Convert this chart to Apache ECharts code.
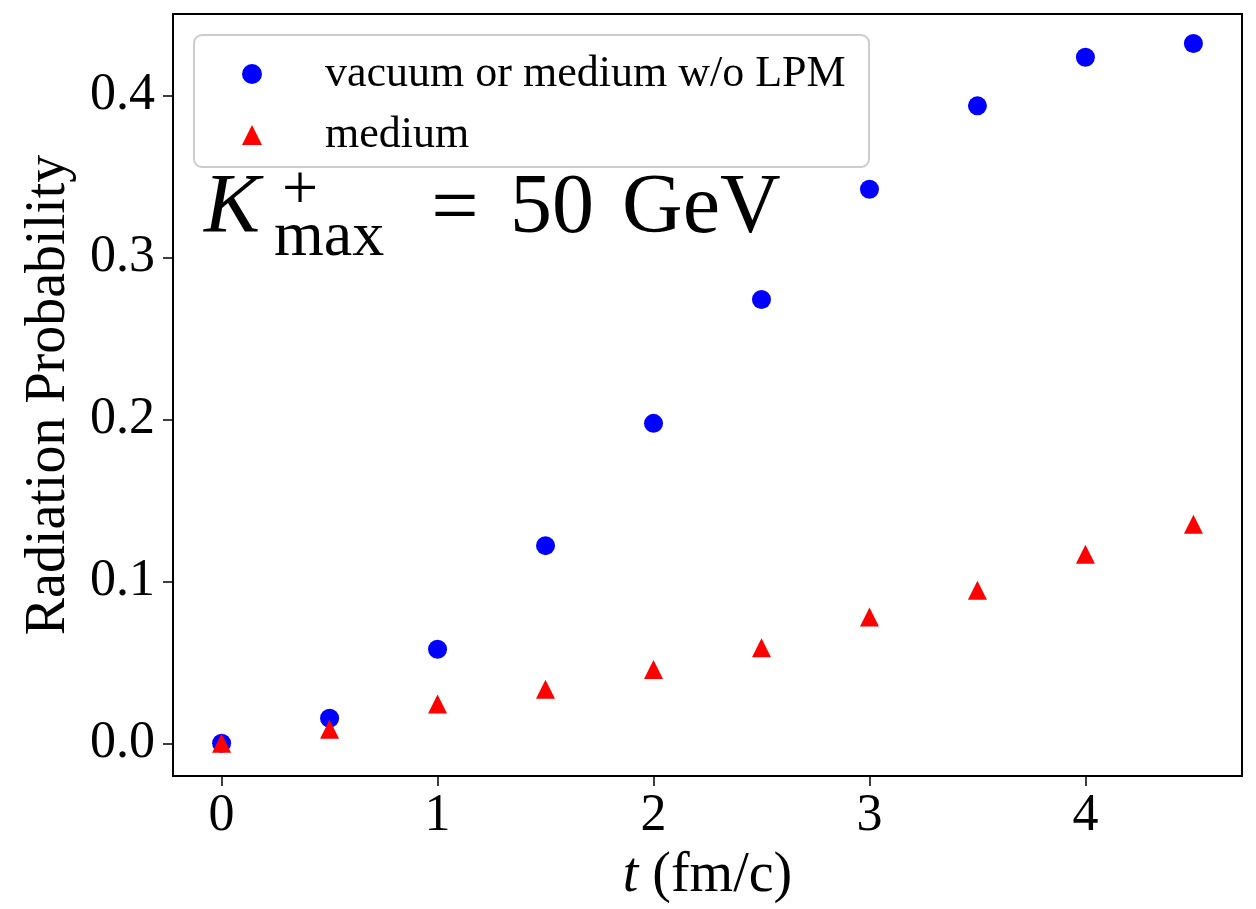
<!DOCTYPE html>
<html>
<head>
<meta charset="utf-8">
<script src="https://cdn.jsdelivr.net/npm/echarts@6/dist/echarts.min.js"></script>
<style>
html,body{margin:0;padding:0;background:#fff;}
#chart{width:1256px;height:909px;}
</style>
</head>
<body>
<div id="chart"></div>
<script>
// ---- data ----
const times = [0, 0.5, 1, 1.5, 2, 2.5, 3, 3.5, 4, 4.5];
const vacuumProb = [0, 0.0154, 0.058, 0.122, 0.1975, 0.274, 0.342, 0.3935, 0.4235, 0.432];
const mediumProb = [0, 0.0087, 0.0243, 0.0334, 0.0455, 0.059, 0.0779, 0.0944, 0.1167, 0.1352];
const xTicks = [0, 1, 2, 3, 4];
const yTicks = [0, 0.1, 0.2, 0.3, 0.4];
const seriesNames = ['vacuum or medium w/o LPM', 'medium'];

const FONT = '"Liberation Serif", "DejaVu Serif", serif';

const chart = echarts.init(document.getElementById('chart'), null, {renderer: 'canvas'});

function pairs(xs, ys) { return xs.map((x, i) => [x, ys[i]]); }

const option = {
  backgroundColor: '#ffffff',
  animation: false,
  grid: {
    left: 173, top: 14, right: 14, bottom: 133,
    show: true, borderColor: '#000', borderWidth: 2, backgroundColor: 'transparent'
  },
  xAxis: {
    type: 'value',
    min: -0.225, max: 4.725,
    name: '{i|t} (fm/c)',
    nameLocation: 'middle',
    nameGap: 72,
    nameTextStyle: {
      fontFamily: FONT, fontSize: 56, color: '#000',
      rich: { i: { fontFamily: FONT, fontStyle: 'italic', fontSize: 56, color: '#000' } }
    },
    axisLine: { show: true, onZero: false, lineStyle: { color: '#000', width: 2 } },
    axisTick: { show: true, inside: false, length: 10, lineStyle: { color: '#000', width: 1.5 }, customValues: xTicks },
    axisLabel: { fontFamily: FONT, fontSize: 52, color: '#000', margin: 14, customValues: xTicks,
      formatter: v => String(v) },
    splitLine: { show: false }
  },
  yAxis: {
    type: 'value',
    min: -0.0202, max: 0.4502,
    name: 'Radiation Probability',
    nameLocation: 'middle',
    nameGap: 96,
    nameRotate: 90,
    nameTextStyle: { fontFamily: FONT, fontSize: 56, color: '#000' },
    axisLine: { show: true, onZero: false, lineStyle: { color: '#000', width: 2 } },
    axisTick: { show: true, inside: false, length: 10, lineStyle: { color: '#000', width: 1.5 }, customValues: yTicks },
    axisLabel: { fontFamily: FONT, fontSize: 52, color: '#000', margin: 18, customValues: yTicks,
      formatter: v => v.toFixed(1) },
    splitLine: { show: false }
  },
  legend: {
    orient: 'vertical',
    left: 242, top: 52,
    padding: 0,
    itemWidth: 20, itemHeight: 20,
    itemGap: 17,
    z: 20,
    data: [
      { name: seriesNames[0], icon: 'circle' },
      { name: seriesNames[1], icon: 'triangle' }
    ],
    textStyle: { fontFamily: FONT, fontSize: 44, lineHeight: 42, color: '#000', padding: [0, 0, 0, 58] }
  },
  graphic: [
    {
      type: 'rect', z: 10,
      shape: { x: 194, y: 35, width: 675, height: 132, r: 8 },
      style: { fill: 'rgba(255,255,255,0.8)', stroke: '#cccccc', lineWidth: 2 }
    },
    {
      type: 'text', z: 10, x: 204, y: 210,
      style: { text: 'K', font: 'italic 84px ' + FONT, fill: '#000', verticalAlign: 'middle', align: 'left' }
    },
    {
      type: 'text', z: 10, x: 300, y: 192,
      style: { text: '+', font: '64px ' + FONT, fill: '#000', verticalAlign: 'middle', align: 'center' }
    },
    {
      type: 'text', z: 10, x: 274, y: 238,
      style: { text: 'max', font: '64px ' + FONT, fill: '#000', verticalAlign: 'middle', align: 'left' }
    },
    {
      type: 'text', z: 10, x: 455, y: 212,
      style: { text: '=', font: '84px ' + FONT, fill: '#000', verticalAlign: 'middle', align: 'center' }
    },
    {
      type: 'text', z: 10, x: 510, y: 210,
      style: { text: '50', font: '84px ' + FONT, fill: '#000', verticalAlign: 'middle', align: 'left' }
    },
    {
      type: 'text', z: 10, x: 622, y: 210,
      style: { text: 'GeV', font: '84px ' + FONT, fill: '#000', verticalAlign: 'middle', align: 'left' }
    }
  ],
  series: [
    {
      name: seriesNames[0], type: 'scatter', symbol: 'circle', symbolSize: 19,
      itemStyle: { color: '#0000ff', opacity: 1 },
      data: pairs(times, vacuumProb), z: 2
    },
    {
      name: seriesNames[1], type: 'scatter', symbol: 'triangle', symbolSize: 19,
      itemStyle: { color: '#ff0000', opacity: 1 },
      data: pairs(times, mediumProb), z: 3
    }
  ]
};
chart.setOption(option);
</script>
</body>
</html>
